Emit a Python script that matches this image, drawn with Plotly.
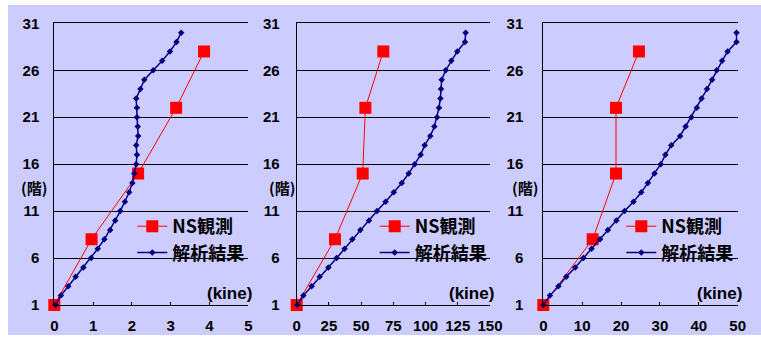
import plotly.graph_objects as go

W, H = 761, 338

# Floors where the NS observation was recorded
floors_obs = [1, 8, 15, 22, 28]
# Floors of the analysis model (1F .. 30F)
floors_ana = list(range(1, 31))

# Panel 1 (0-5 kine)
obs1 = [0, 0.96, 2.16, 3.14, 3.86]
ana1 = [0.03, 0.17, 0.36, 0.55, 0.75, 0.95, 1.12, 1.29, 1.44, 1.57,
        1.70, 1.82, 1.93, 2.01, 2.06, 2.11, 2.13, 2.11, 2.16, 2.15,
        2.13, 2.13, 2.11, 2.22, 2.32, 2.55, 2.78, 2.98, 3.15, 3.27]

# Panel 2 (0-150 kine)
obs2 = [0, 29.7, 51.2, 53.3, 67.2]
ana2 = [0.5, 5.2, 11.6, 17.8, 24.6, 31.0, 37.2, 43.2, 49.4, 56.1,
        62.3, 69.0, 75.3, 81.5, 86.9, 91.5, 96.2, 99.3, 103.7, 106.8,
        108.9, 110.4, 111.5, 112.0, 112.5, 115.6, 120.0, 124.6, 130.6, 131.1]

# Panel 3 (0-50 kine)
obs3 = [0, 12.7, 18.7, 18.7, 24.6]
ana3 = [0, 1.7, 3.9, 5.9, 8.2, 10.3, 12.4, 14.6, 16.6, 18.8,
        20.9, 23.2, 25.2, 26.9, 28.6, 30.2, 31.4, 32.9, 35.2, 36.6,
        38.1, 39.5, 40.7, 42.1, 43.4, 44.6, 46.0, 47.4, 49.7, 49.7]

x_ranges = [[0, 5], [0, 150], [0, 50]]
x_dticks = [1, 25, 10]
y_ticks = [1, 6, 11, 16, 21, 26, 31]

obs_name = "NS観測"
ana_name = "解析結果"
floor_label = "(階)"
unit_label = "(kine)"

LAV = "rgb(204,204,255)"
RED = "#FF0000"
NAVY = "#000080"
FONT = "Liberation Sans, Noto Sans CJK JP, sans-serif"
CJK = "Noto Sans CJK JP, sans-serif"

# panel pixel extents (left, right) and plot top/bottom
panels_px = [(54.3, 248.3), (296.7, 490.0), (543.3, 737.7)]
top_px, bot_px = 23.3, 305.0
ydom = [(H - bot_px) / H, (H - top_px) / H]
y_standoff = [11, 13, 16]
floor_lbl_x = [34, 282, 525]

fig = go.Figure()
obs_sets = [obs1, obs2, obs3]
ana_sets = [ana1, ana2, ana3]

for i in range(3):
    sfx = "" if i == 0 else str(i + 1)
    leg = "legend" + sfx
    fig.add_trace(go.Scatter(
        x=obs_sets[i], y=floors_obs, mode="lines+markers", name=obs_name,
        line=dict(color=RED, width=1),
        marker=dict(symbol="square", size=12, color=RED),
        xaxis="x" + sfx, yaxis="y" + sfx, legend=leg, cliponaxis=False,
    ))
    fig.add_trace(go.Scatter(
        x=ana_sets[i], y=floors_ana, mode="lines+markers", name=ana_name,
        line=dict(color=NAVY, width=1.5),
        marker=dict(symbol="diamond", size=5, color=NAVY),
        xaxis="x" + sfx, yaxis="y" + sfx, legend=leg, cliponaxis=False,
    ))

layout = dict(
    width=W, height=H,
    margin=dict(l=0, r=0, t=0, b=0, autoexpand=False),
    paper_bgcolor="white",
    plot_bgcolor="white",
    font=dict(family=FONT, size=15, color="black", weight="bold"),
    showlegend=True,
)

shapes = [dict(type="rect", xref="paper", yref="paper",
               x0=8 / W, x1=1, y0=3 / H, y1=(H - 5) / H,
               fillcolor=LAV, line=dict(width=0), layer="below")]
annotations = []

for i in range(3):
    sfx = "" if i == 0 else str(i + 1)
    l, r = panels_px[i]
    layout["xaxis" + sfx] = dict(
        domain=[l / W, r / W], range=x_ranges[i], dtick=x_dticks[i], tick0=0,
        anchor="y" + sfx, showgrid=False, zeroline=False, automargin=False,
        showline=True, mirror=True, linecolor="black", linewidth=1,
        ticks="inside", ticklen=3, tickcolor="black",
        ticklabelstandoff=7, fixedrange=True,
        tickfont=dict(family=FONT, size=15, color="black", weight="bold"),
    )
    layout["yaxis" + sfx] = dict(
        domain=ydom, range=[1, 31], tickvals=y_ticks, automargin=False,
        anchor="x" + sfx, showgrid=True, gridcolor="black", gridwidth=1,
        zeroline=False, showline=True, linecolor="black", linewidth=1,
        ticks="", ticklabelstandoff=y_standoff[i], fixedrange=True,
        tickfont=dict(family=FONT, size=15, color="black", weight="bold"),
    )
    layout["legend" + sfx] = dict(
        x=(l + 78) / W, y=(H - 208) / H, xanchor="left", yanchor="top",
        bgcolor="rgba(0,0,0,0)", borderwidth=0,
        font=dict(family=CJK, size=18, color="black", weight="bold"),
        itemwidth=30, tracegroupgap=0,
    )
    annotations.append(dict(
        text=floor_label, xref="paper", yref="paper",
        x=floor_lbl_x[i] / W, y=(H - 188) / H, showarrow=False,
        xanchor="center", yanchor="middle",
        font=dict(family=CJK, size=15, color="black", weight="bold"),
    ))
    annotations.append(dict(
        text=unit_label, xref="paper", yref="paper",
        x=(r + 6) / W, y=(H - 293) / H, showarrow=False,
        xanchor="right", yanchor="middle",
        font=dict(family=FONT, size=17, color="black", weight="bold"),
    ))

layout["shapes"] = shapes
layout["annotations"] = annotations
fig.update_layout(**layout)

fig.write_html("out.html", config={"displayModeBar": False})
